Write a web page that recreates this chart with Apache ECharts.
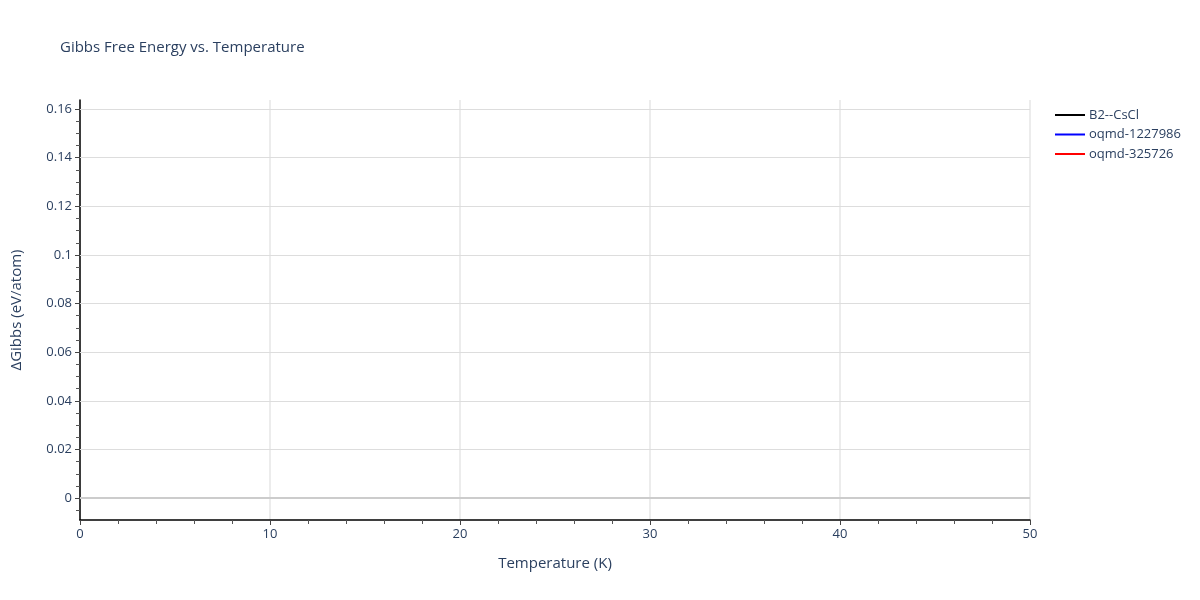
<!DOCTYPE html>
<html>
<head>
<meta charset="utf-8">
<script src="https://cdn.jsdelivr.net/npm/echarts@6/dist/echarts.min.js"></script>
<style>
  html, body { margin: 0; padding: 0; background: #fff; }
  #chart { width: 1200px; height: 600px; }
</style>
</head>
<body>
<div id="chart"></div>
<script>
// series names (legend) and their values - no points are visible in the picture
const seriesNames = ['B2--CsCl', 'oqmd-1227986', 'oqmd-325726']
const seriesColors = ['#000000', '#0000ff', '#ff0000']
const b2CsCl = []
const oqmd1227986 = []
const oqmd325726 = []
const seriesData = [b2CsCl, oqmd1227986, oqmd325726]

// axis ranges and ticks
const xRange = [0, 50]
const yRange = [-0.009, 0.1637]
const yMajorTicks = [0, 0.02, 0.04, 0.06, 0.08, 0.1, 0.12, 0.14, 0.16]
const yMinorTicks = [-0.005, 0.005, 0.01, 0.015, 0.025, 0.03, 0.035, 0.045, 0.05, 0.055,
  0.065, 0.07, 0.075, 0.085, 0.09, 0.095, 0.105, 0.11, 0.115, 0.125, 0.13, 0.135,
  0.145, 0.15, 0.155]

const textColor = '#2a3f5f'
const font = '"Open Sans", verdana, arial, sans-serif'

const chart = echarts.init(document.getElementById('chart'))

const series = seriesNames.map((name, i) => ({
  name: name,
  type: 'line',
  data: seriesData[i],
  symbol: 'none',
  lineStyle: { color: seriesColors[i], width: 2 },
  itemStyle: { color: seriesColors[i] }
}))

// zero line
series[0].markLine = {
  silent: true,
  symbol: 'none',
  label: { show: false },
  lineStyle: { color: '#cccccc', width: 2, type: 'solid' },
  data: [{ yAxis: 0 }]
}

chart.setOption({
  animation: false,
  textStyle: { fontFamily: font },
  title: {
    text: 'Gibbs Free Energy vs. Temperature',
    left: 55,
    top: 35,
    textStyle: { fontFamily: font, fontSize: 15, fontWeight: 'normal', color: textColor }
  },
  legend: {
    orient: 'vertical',
    left: 1050,
    top: 101,
    icon: 'rect',
    itemWidth: 30,
    itemHeight: 2,
    itemGap: 1.5,
    textStyle: { fontFamily: font, fontSize: 13, color: textColor, lineHeight: 18, padding: [0, 0, 0, -1] },
    data: seriesNames
  },
  grid: { left: 80, right: 170, top: 100, bottom: 80, containLabel: false },
  xAxis: {
    type: 'value',
    min: xRange[0],
    max: xRange[1],
    interval: 10,
    name: 'Temperature (K)',
    nameLocation: 'middle',
    nameGap: 36,
    nameTextStyle: { fontFamily: font, fontSize: 15, color: textColor },
    axisLine: { show: true, onZero: false, lineStyle: { color: '#000', width: 1.5 } },
    axisTick: { show: true, length: 5, lineStyle: { color: '#444' } },
    minorTick: { show: true, splitNumber: 5, length: 4, lineStyle: { color: '#555' } },
    axisLabel: { fontFamily: font, fontSize: 13, color: textColor, margin: 8 },
    splitLine: { show: true, lineStyle: { color: '#e6e6e6', width: 1.5 } }
  },
  yAxis: [
    {
      type: 'value',
      min: yRange[0],
      max: yRange[1],
      name: 'ΔGibbs (eV/atom)',
      nameLocation: 'middle',
      nameGap: 56,
      nameTextStyle: { fontFamily: font, fontSize: 15, color: textColor },
      axisLine: { show: true, lineStyle: { color: '#000', width: 1.5 } },
      axisTick: { show: true, length: 5, customValues: yMajorTicks, lineStyle: { color: '#444' } },
      axisLabel: {
        fontFamily: font, fontSize: 13, color: textColor, margin: 8,
        customValues: yMajorTicks,
        formatter: v => String(Math.round(v * 1000) / 1000)
      },
      splitLine: { show: false }
    },
    {
      type: 'value',
      min: yRange[0],
      max: yRange[1],
      position: 'left',
      axisLine: { show: false },
      axisTick: { show: true, length: 4, customValues: yMinorTicks, lineStyle: { color: '#555' } },
      axisLabel: { show: false, customValues: yMinorTicks },
      splitLine: { show: false }
    }
  ],
  series: series.concat([{
    // horizontal gridlines
    type: 'line',
    data: [],
    silent: true,
    markLine: {
      silent: true,
      symbol: 'none',
      label: { show: false },
      lineStyle: { color: '#dddddd', width: 1, type: 'solid' },
      data: yMajorTicks.filter(v => v !== 0).map(v => ({ yAxis: v }))
    },
    z: 0
  }])
})
</script>
</body>
</html>
